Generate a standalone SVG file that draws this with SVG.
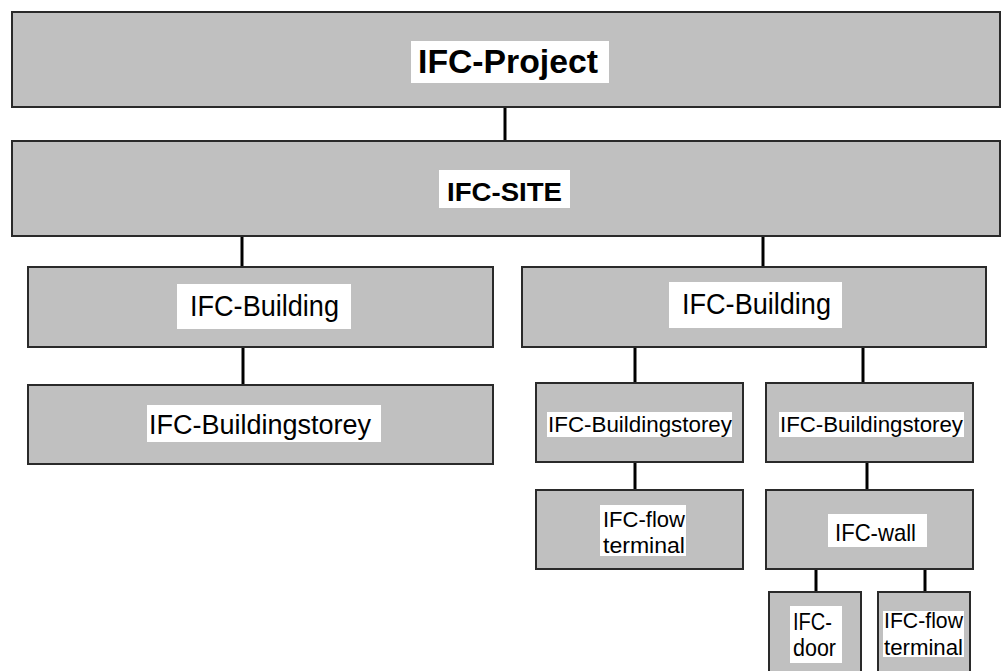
<svg xmlns="http://www.w3.org/2000/svg" width="1002" height="671" viewBox="0 0 1002 671">
<style>
.box{fill:#c0c0c0;stroke:#2a2a2a;stroke-width:2}
.lbl{fill:#ffffff}
.t{font-family:"Liberation Sans",Arial,sans-serif;fill:#000}
.b{font-weight:bold}
.con{stroke:#000;stroke-width:3;fill:none}
</style>
<rect width="1002" height="671" fill="#ffffff"/>
<g id="connectors">
<line class="con" x1="505" y1="107" x2="505" y2="141"/>
<line class="con" x1="242" y1="236" x2="242" y2="267"/>
<line class="con" x1="763" y1="236" x2="763" y2="267"/>
<line class="con" x1="243" y1="347" x2="243" y2="385"/>
<line class="con" x1="635" y1="347" x2="635" y2="383"/>
<line class="con" x1="863" y1="347" x2="863" y2="383"/>
<line class="con" x1="635" y1="462" x2="635" y2="490"/>
<line class="con" x1="867" y1="462" x2="867" y2="490"/>
<line class="con" x1="816" y1="569" x2="816" y2="592"/>
<line class="con" x1="925" y1="569" x2="925" y2="592"/>
</g>
<g id="project">
<rect class="box" x="12" y="12" width="988" height="95"/>
<rect class="lbl" x="411" y="41" width="198" height="42"/>
<text class="t b" x="418" y="73" font-size="34" textLength="180" lengthAdjust="spacingAndGlyphs">IFC-Project</text>
</g>
<g id="site">
<rect class="box" x="12" y="141" width="988" height="95"/>
<rect class="lbl" x="439" y="170" width="131" height="38"/>
<text class="t b" x="447" y="201" font-size="26" textLength="115" lengthAdjust="spacingAndGlyphs">IFC-SITE</text>
</g>
<g id="building1">
<rect class="box" x="28" y="267" width="465" height="80"/>
<rect class="lbl" x="177" y="284" width="174" height="45"/>
<text class="t" x="190" y="316" font-size="29" textLength="149" lengthAdjust="spacingAndGlyphs">IFC-Building</text>
</g>
<g id="storey1">
<rect class="box" x="28" y="385" width="465" height="79"/>
<rect class="lbl" x="147" y="405" width="234" height="37"/>
<text class="t" x="149" y="434" font-size="27" textLength="222" lengthAdjust="spacingAndGlyphs">IFC-Buildingstorey</text>
</g>
<g id="building2">
<rect class="box" x="522" y="267" width="464" height="80"/>
<rect class="lbl" x="669" y="282" width="173" height="46"/>
<text class="t" x="682" y="314" font-size="29" textLength="149" lengthAdjust="spacingAndGlyphs">IFC-Building</text>
</g>
<g id="storey2">
<rect class="box" x="536" y="383" width="207" height="79"/>
<rect class="lbl" x="547" y="412" width="185" height="25"/>
<text class="t" x="548" y="432" font-size="22" textLength="184" lengthAdjust="spacingAndGlyphs">IFC-Buildingstorey</text>
</g>
<g id="storey3">
<rect class="box" x="766" y="383" width="207" height="79"/>
<rect class="lbl" x="779" y="412" width="185" height="25"/>
<text class="t" x="780" y="432" font-size="22" textLength="183" lengthAdjust="spacingAndGlyphs">IFC-Buildingstorey</text>
</g>
<g id="flowterminal1">
<rect class="box" x="536" y="490" width="207" height="79"/>
<rect class="lbl" x="600" y="505" width="86" height="51"/>
<text class="t" x="603" y="527" font-size="22" textLength="82" lengthAdjust="spacingAndGlyphs">IFC-flow</text>
<text class="t" x="603" y="553" font-size="22" textLength="82" lengthAdjust="spacingAndGlyphs">terminal</text>
</g>
<g id="wall">
<rect class="box" x="766" y="490" width="207" height="79"/>
<rect class="lbl" x="828" y="514" width="99" height="33"/>
<text class="t" x="835" y="541" font-size="24" textLength="81" lengthAdjust="spacingAndGlyphs">IFC-wall</text>
</g>
<g id="door">
<rect class="box" x="769" y="592" width="92" height="100"/>
<rect class="lbl" x="790" y="606" width="52" height="57"/>
<text class="t" x="793" y="630" font-size="23" textLength="39" lengthAdjust="spacingAndGlyphs">IFC-</text>
<text class="t" x="793" y="656" font-size="23" textLength="43" lengthAdjust="spacingAndGlyphs">door</text>
</g>
<g id="flowterminal2">
<rect class="box" x="878" y="592" width="92" height="100"/>
<rect class="lbl" x="883" y="611" width="81" height="46"/>
<text class="t" x="884" y="628" font-size="22" textLength="79" lengthAdjust="spacingAndGlyphs">IFC-flow</text>
<text class="t" x="884" y="655" font-size="22" textLength="79" lengthAdjust="spacingAndGlyphs">terminal</text>
</g>
</svg>
